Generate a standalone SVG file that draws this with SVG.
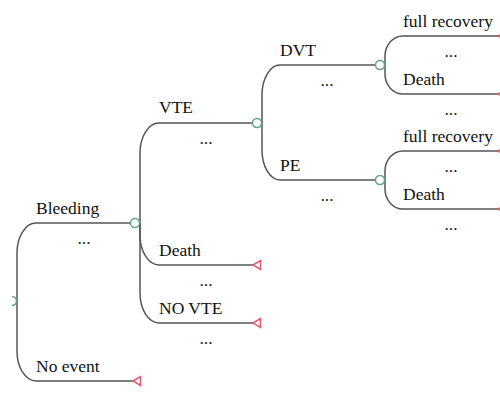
<svg xmlns="http://www.w3.org/2000/svg" width="500" height="400" viewBox="0 0 500 400">
<defs>
<style>
.e{fill:none;stroke:#555;stroke-width:1.5}
.c{fill:#fff;stroke:#5fa37f;stroke-width:1.5}
.t{fill:#fff;stroke:#e05a6e;stroke-width:1.5}
.l{font-family:"Liberation Serif","Times New Roman",serif;font-size:17.5px;fill:#111}
.d{font-family:"Liberation Serif","Times New Roman",serif;font-size:17.5px;fill:#222;text-anchor:middle}
</style>
</defs>
<rect width="500" height="400" fill="#fff"/>
<g id="connectors">
<!-- root -> Bleeding / No event -->
<path class="e" d="M17 302 V253 A19 30 0 0 1 36 223 H130.5"/>
<path class="e" d="M17 302 V351 A19 30 0 0 0 36 381 H133"/>
<!-- Bleeding -> VTE / Death / NO VTE -->
<path class="e" d="M140 223 V153 A19 30 0 0 1 159 123 H252.5"/>
<path class="e" d="M140 223 V235 A19 30 0 0 0 159 265 H253"/>
<path class="e" d="M140 223 V293 A19 30 0 0 0 159 323 H253"/>
<!-- VTE -> DVT / PE -->
<path class="e" d="M262 123 V95 A18 30 0 0 1 280 65 H375.5"/>
<path class="e" d="M262 123 V150 A18 30 0 0 0 280 180 H375.5"/>
<!-- DVT -> full recovery / Death -->
<path class="e" d="M385 65 V56 A18 20 0 0 1 403 36 H498"/>
<path class="e" d="M385 65 V74 A18 20 0 0 0 403 94 H498"/>
<!-- PE -> full recovery / Death -->
<path class="e" d="M385 180 V171 A18 20 0 0 1 403 151 H498"/>
<path class="e" d="M385 180 V189 A18 20 0 0 0 403 209 H498"/>
</g>
<g id="root">
<path class="c" d="M12 296.5 A4.5 4.5 0 0 1 12 305.5"/>
</g>
<g id="bleeding">
<text class="l" x="36" y="214">Bleeding</text>
<text class="d" x="84" y="244">...</text>
<circle class="c" cx="135" cy="223" r="4.5"/>
</g>
<g id="no-event">
<text class="l" x="36" y="372">No event</text>
<text class="d" x="84" y="402">...</text>
<path class="t" d="M133 381 L140.5 376.5 V385.5 Z"/>
</g>
<g id="vte">
<text class="l" x="159" y="113">VTE</text>
<text class="d" x="206" y="144">...</text>
<circle class="c" cx="257" cy="123" r="4.5"/>
</g>
<g id="death-1">
<text class="l" x="159" y="256">Death</text>
<text class="d" x="206" y="286">...</text>
<path class="t" d="M253 265 L260.5 260.5 V269.5 Z"/>
</g>
<g id="no-vte">
<text class="l" x="159" y="314">NO VTE</text>
<text class="d" x="206" y="344">...</text>
<path class="t" d="M253 323 L260.5 318.5 V327.5 Z"/>
</g>
<g id="dvt">
<text class="l" x="280" y="56">DVT</text>
<text class="d" x="327" y="86">...</text>
<circle class="c" cx="380" cy="65" r="4.5"/>
</g>
<g id="pe">
<text class="l" x="280" y="171">PE</text>
<text class="d" x="327" y="201">...</text>
<circle class="c" cx="380" cy="180" r="4.5"/>
</g>
<g id="dvt-full-recovery">
<text class="l" x="403" y="27">full recovery</text>
<text class="d" x="451" y="57">...</text>
<path class="t" d="M498 36 L505.5 31.5 V40.5 Z"/>
</g>
<g id="dvt-death">
<text class="l" x="403" y="85">Death</text>
<text class="d" x="451" y="115">...</text>
<path class="t" d="M498 94 L505.5 89.5 V98.5 Z"/>
</g>
<g id="pe-full-recovery">
<text class="l" x="403" y="142">full recovery</text>
<text class="d" x="451" y="172">...</text>
<path class="t" d="M498 151 L505.5 146.5 V155.5 Z"/>
</g>
<g id="pe-death">
<text class="l" x="403" y="200">Death</text>
<text class="d" x="451" y="230">...</text>
<path class="t" d="M498 209 L505.5 204.5 V213.5 Z"/>
</g>
</svg>
